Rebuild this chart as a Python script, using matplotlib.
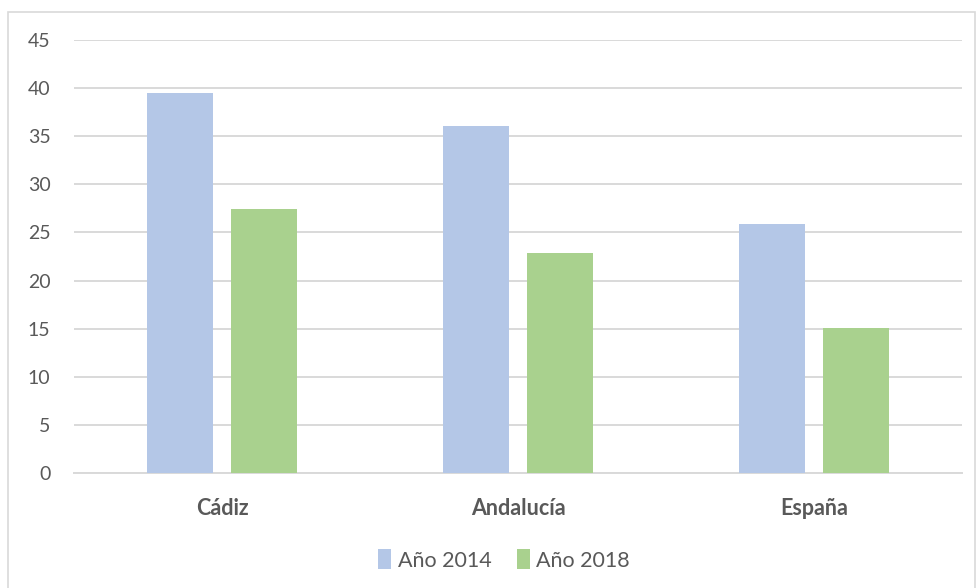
import matplotlib.pyplot as plt
from matplotlib.patches import Rectangle
import numpy as np

categorias = ['Cádiz', 'Andalucía', 'España']
anio_2014 = [39.5, 36.1, 25.9]
anio_2018 = [27.4, 22.9, 15.1]
series = ['Año 2014', 'Año 2018']
yticks = [0, 5, 10, 15, 20, 25, 30, 35, 40, 45]

plt.rcParams['font.family'] = ['Lato', 'DejaVu Sans']

fig = plt.figure(figsize=(9.77, 5.88), dpi=100)
ax = fig.add_axes([74 / 977, 1 - 473 / 588, (962 - 74) / 977, (473 - 40) / 588])

# marco gris del gráfico
fig.patches.append(Rectangle((8 / 977, -0.01), 967 / 977, 1 - 12 / 588 + 0.01,
                             transform=fig.transFigure, fill=False,
                             edgecolor='#D9D9D9', linewidth=1.2))

x = np.arange(len(categorias))
w = 0.22
off = 0.142
ax.bar(x - off, anio_2014, w, color='#B4C7E7', label=series[0], zorder=3)
ax.bar(x + off, anio_2018, w, color='#A9D18E', label=series[1], zorder=3)

ax.set_xlim(-0.5, 2.5)
ax.set_ylim(0, 45)
ax.set_yticks(yticks)
ax.set_xticks(x)
ax.set_xticklabels(categorias, fontsize=15.5, fontweight='bold', color='#595959')
ax.tick_params(axis='y', length=0, labelsize=14, labelcolor='#595959', pad=17)
ax.tick_params(axis='x', length=0, pad=18)
ax.grid(axis='y', color='#D9D9D9', linewidth=1.4, zorder=0)
for s in ['top', 'right', 'left']:
    ax.spines[s].set_visible(False)
ax.spines['bottom'].set_color('#D9D9D9')
ax.spines['bottom'].set_linewidth(1.4)

fig.legend(loc='center', bbox_to_anchor=(0.516, 1 - 560 / 588), ncol=2, frameon=False,
           fontsize=15.5, handlelength=0.6, handleheight=1.0, handletextpad=0.3,
           columnspacing=1.2, labelcolor='#595959')

fig.savefig('out.png', dpi=100)
